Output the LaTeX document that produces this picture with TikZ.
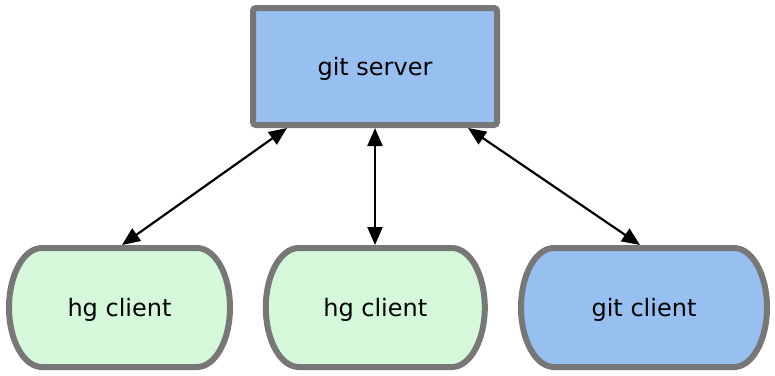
\documentclass[tikz,border=0pt]{standalone}
\usepackage{fontspec}
\setmainfont{DejaVu Sans}
\usetikzlibrary{arrows.meta,calc}
\pgfdeclarelayer{background}
\pgfsetlayers{background,main}

\definecolor{boxblue}{HTML}{97C0F1}
\definecolor{boxgreen}{HTML}{D5F8DA}
\definecolor{edgegray}{HTML}{777777}

\tikzset{
  label/.style={font=\fontsize{24}{28}\selectfont, text=black, text depth=0pt},
  serverbox/.style={label, rectangle, draw=edgegray, fill=boxblue,
    line width=6pt, rounded corners=3pt, minimum width=244pt, minimum height=117pt},
  clientbox/.style={label, rectangle, draw=none, minimum height=119pt, outer sep=3pt},
  capsule/.style={draw=edgegray, line width=6pt},
  link/.style={line width=2.2pt, {Triangle[length=18pt,width=15pt]}-{Triangle[length=18pt,width=15pt]}}
}

% capsule outline around a node: name, half width, half height, fill colour
\newcommand{\capsuleoutline}[4]{%
  \draw[capsule, fill=#4]
    ($(#1.center)+(-#2+33,#3)$) -- ($(#1.center)+(#2-33,#3)$)
    arc[start angle=90, end angle=-90, x radius=33pt, y radius=#3 pt]
    -- ($(#1.center)+(-#2+33,-#3)$)
    arc[start angle=270, end angle=90, x radius=33pt, y radius=#3 pt]
    -- cycle;}

\begin{document}
\begin{tikzpicture}[x=1pt,y=1pt]
  \useasboundingbox (0,0) rectangle (775,-375);

  \node[serverbox] (server) at (375,-66.5) {git server};

  \node[clientbox, minimum width=221pt] (hg1) at (119.5,-307.5) {hg client};
  \node[clientbox, minimum width=219pt] (hg2) at (375.3,-307.5) {hg client};
  \node[clientbox, minimum width=246pt] (git1) at (644,-307.5) {git client};

  \begin{pgfonlayer}{background}
    \capsuleoutline{hg1}{110.5}{59.5}{boxgreen}
    \capsuleoutline{hg2}{109.5}{59.5}{boxgreen}
    \capsuleoutline{git1}{123}{59.5}{boxblue}
  \end{pgfonlayer}

  \draw[link] ([xshift=-88pt]server.south) -- ([xshift=2.5pt]hg1.north);
  \draw[link] (server.south) -- (hg2.north -| server.south);
  \draw[link] ([xshift=93pt]server.south) -- ([xshift=-4pt]git1.north);
\end{tikzpicture}
\end{document}
